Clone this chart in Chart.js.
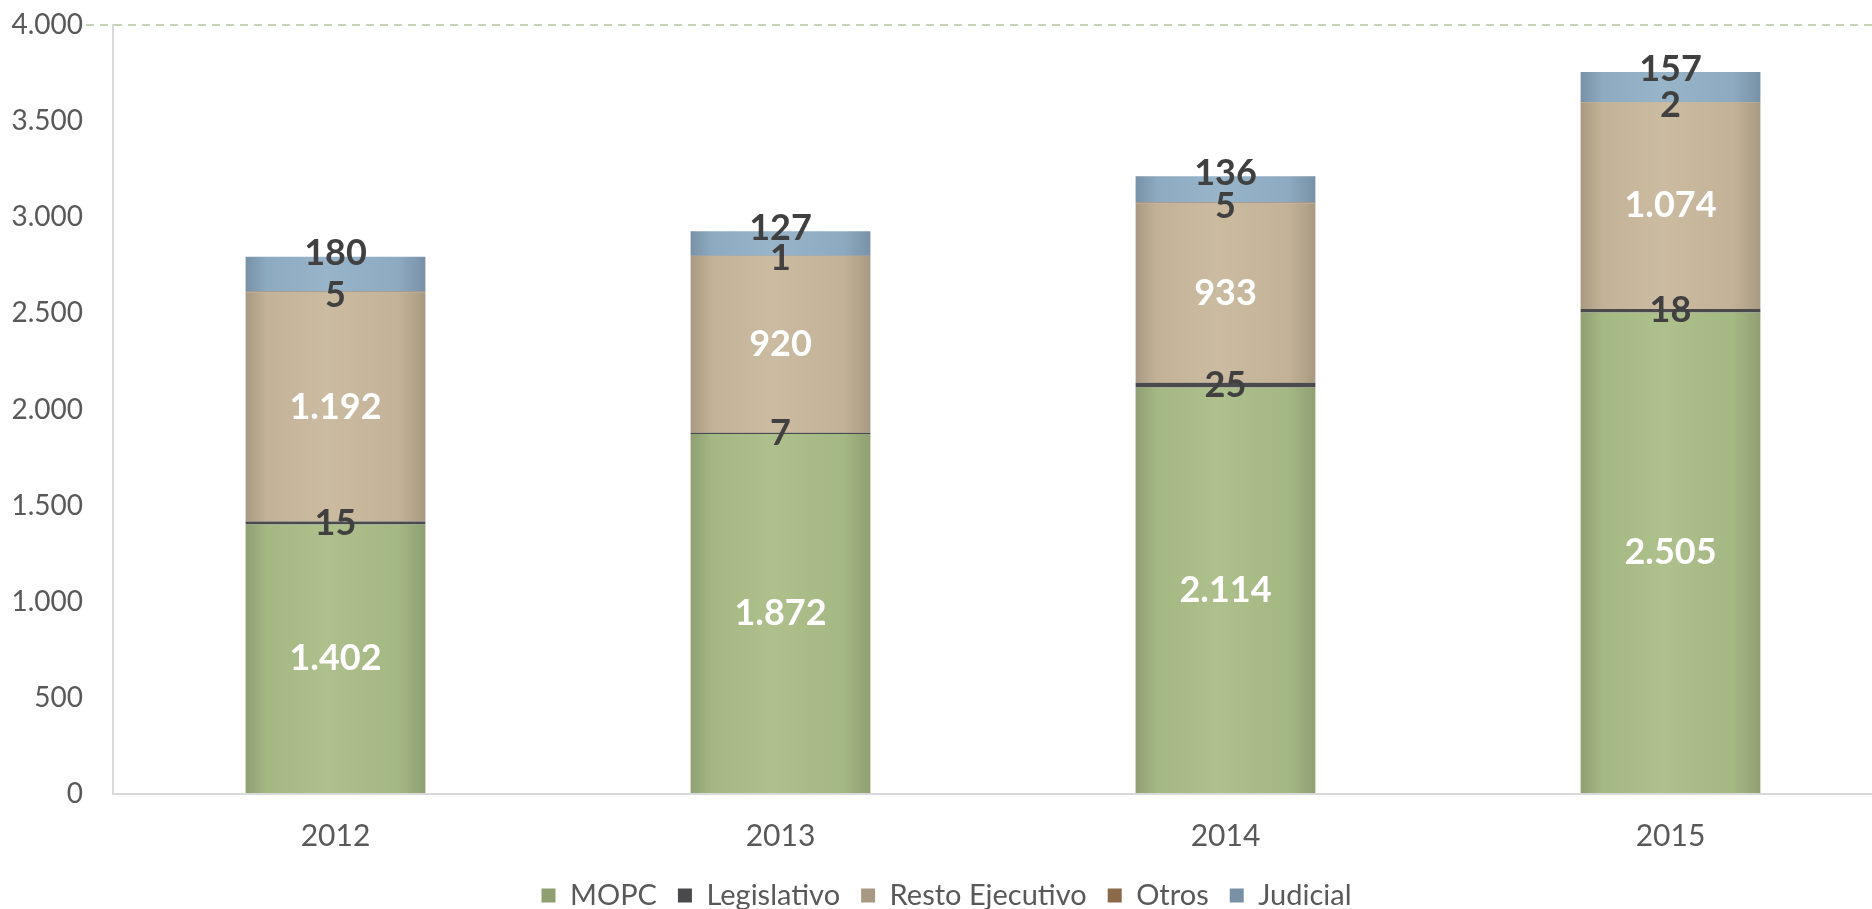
<!DOCTYPE html>
<html>
<head>
<meta charset="utf-8">
<script src="https://cdn.jsdelivr.net/npm/chart.js@4.4.1/dist/chart.umd.min.js"></script>
<style>
  html, body { margin: 0; padding: 0; background: #ffffff; overflow: hidden; }
  canvas { display: block; }
</style>
</head>
<body>
<canvas id="gastoChart" width="1893" height="909"></canvas>
<script>
const years = ['2012', '2013', '2014', '2015'];
const mopc = [1402, 1872, 2114, 2505];
const legislativo = [15, 7, 25, 18];
const restoEjecutivo = [1192, 920, 933, 1074];
const otros = [5, 1, 5, 2];
const judicial = [180, 127, 136, 157];

const BAR_PCT = 0.404;

// formato con punto de miles
function fmt(v) {
    return String(v).replace(/\B(?=(\d{3})+(?!\d))/g, '.');
}

// degradado horizontal para imitar el bisel de las barras
function shade(base, edge, light) {
    return ctx => {
        const chart = ctx.chart;
        if (!chart.chartArea || ctx.type !== 'data') return base;
        const xs = chart.scales.x;
        const cx = xs.getPixelForValue(ctx.dataIndex);
        const w = xs.width / years.length * BAR_PCT;
        const g = chart.ctx.createLinearGradient(cx - w / 2, 0, cx + w / 2, 0);
        g.addColorStop(0, edge);
        g.addColorStop(0.12, base);
        g.addColorStop(0.45, light);
        g.addColorStop(0.85, base);
        g.addColorStop(1, edge);
        return g;
    };
}

const labelPlugin = {
    id: 'segLabels',
    afterDatasetsDraw(chart) {
        const c = chart.ctx;
        c.save();
        c.font = 'bold 36px Lato';
        c.textAlign = 'center';
        c.textBaseline = 'middle';
        chart.data.datasets.forEach((ds, i) => {
            const meta = chart.getDatasetMeta(i);
            meta.data.forEach((bar, j) => {
                const top = bar.y;
                const bottom = bar.base;
                let y = (top + bottom) / 2;
                let color = '#404040';
                if (i === 0 || i === 2) color = '#ffffff';
                if (i === 3) y += 3;
                if (i === 4) y = top - 3;
                c.fillStyle = color;
                c.fillText(fmt(ds.data[j]), bar.x, y);
            });
        });
        c.restore();
    }
};

// la leyenda queda un poco mas arriba, la bajamos a mano
const legendShift = {
    id: 'legendShift',
    afterLayout(chart) {
        chart.legend.top -= 18;
        chart.legend.bottom -= 18;
    }
};

const topLine = ctx => (ctx.tick && ctx.tick.value === 4000) ? '#c8d2b4' : 'rgba(0,0,0,0)';

new Chart(document.getElementById('gastoChart').getContext('2d'), {
    type: 'bar',
    data: {
        labels: years,
        datasets: [
            {
                label: 'MOPC',
                data: mopc,
                backgroundColor: shade('#a4b883', '#8f9f72', '#aec08c')
            },
            {
                label: 'Legislativo',
                data: legislativo,
                backgroundColor: '#4a4a4d'
            },
            {
                label: 'Resto Ejecutivo',
                data: restoEjecutivo,
                backgroundColor: shade('#c3b297', '#a89a82', '#cbbba0')
            },
            {
                label: 'Otros',
                data: otros,
                backgroundColor: '#8a6a48'
            },
            {
                label: 'Judicial',
                data: judicial,
                backgroundColor: shade('#8eaac0', '#7891a6', '#98b4c9')
            }
        ]
    },
    options: {
        responsive: false,
        animation: false,
        datasets: {
            bar: { categoryPercentage: 1, barPercentage: BAR_PCT }
        },
        layout: { padding: { top: 25, left: 0, right: 0, bottom: -26 } },
        scales: {
            x: {
                stacked: true,
                grid: { display: false, drawTicks: false },
                border: { color: '#d9d9d9', width: 2 },
                ticks: {
                    padding: 24,
                    color: '#595959',
                    font: { family: 'Lato', size: 30 }
                }
            },
            y: {
                stacked: true,
                min: 0,
                max: 4000,
                afterFit(scale) { scale.width = 113; },
                grid: {
                    color: topLine,
                    tickColor: topLine,
                    lineWidth: 2,
                    tickBorderDash: [8, 6],
                    tickLength: 27
                },
                border: { color: '#d9d9d9', width: 2, dash: [8, 6] },
                ticks: {
                    stepSize: 500,
                    padding: 3,
                    color: '#595959',
                    font: { family: 'Lato', size: 28 },
                    callback: v => fmt(v)
                }
            }
        },
        plugins: {
            legend: {
                position: 'bottom',
                maxHeight: 57,
                labels: {
                    boxWidth: 14,
                    boxHeight: 14,
                    padding: 21,
                    color: '#595959',
                    font: { family: 'Lato', size: 29 }
                }
            },
            tooltip: { enabled: false }
        }
    },
    plugins: [labelPlugin, legendShift]
});
</script>
</body>
</html>
